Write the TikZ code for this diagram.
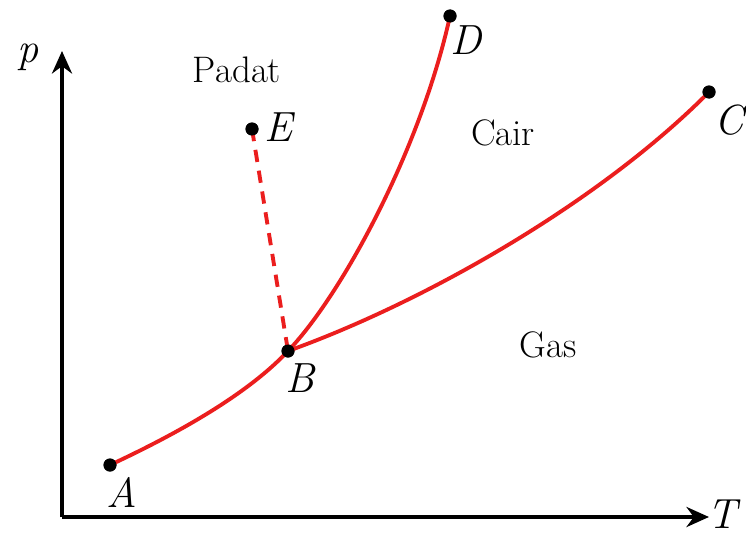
\documentclass[tikz,border=0pt]{standalone}
\usepackage{fontspec}
\usetikzlibrary{arrows.meta, positioning, calc}
\definecolor{curvered}{RGB}{235,30,30}
\tikzset{
  axis/.style={line width=2.3pt, -{Stealth[length=4.5mm, width=4mm]}},
  curve/.style={line width=2.2pt, draw=curvered},
  dashcurve/.style={line width=2.2pt, draw=curvered, dash pattern=on 7pt off 5pt},
  dot/.style={circle, fill=black, inner sep=0pt, minimum size=2.6mm},
  ptlabel/.style={font=\rmfamily\fontsize{24}{28}\selectfont\itshape},
  region/.style={font=\rmfamily\fontsize{21}{25}\selectfont}
}

\begin{document}
\begin{tikzpicture}
  \useasboundingbox (0,0) rectangle (14.92,10.64);

  % axes
  \coordinate (O) at (1.24,0.30);
  \coordinate (ptop) at (1.24,9.62);
  \coordinate (Tend) at (14.18,0.30);
  \draw[axis] (O) -- (ptop);
  \draw[axis] (O) -- (Tend);
  \node[ptlabel] (plab) at (0.56,9.50) {p};
  \node[ptlabel, inner sep=0pt] (Tlab) at (14.44,0.36) {T};

  % points
  \node[dot] (A) at (2.20,1.34) {};
  \node[dot] (B) at (5.76,3.62) {};
  \node[dot] (E) at (5.04,8.06) {};
  \node[dot] (D) at (9.00,10.32) {};
  \node[dot] (C) at (14.18,8.80) {};

  % phase curves
  \draw[curve] (A.center) .. controls (3.4,1.9) and (4.9,2.7) .. (B.center);
  \draw[curve] (B.center) .. controls (6.8,4.7) and (8.4,7.6) .. (D.center);
  \draw[curve] (B.center) .. controls (8.5,4.6) and (12.0,6.6) .. (C.center);
  \draw[dashcurve] (E.center) -- (B.center);

  % dots on top
  \foreach \p in {A,B,E,D,C}
    \fill (\p) circle (0.13);

  % labels
  \node[ptlabel] (Alab) at (2.44,0.80) {A};
  \node[ptlabel] (Blab) at (6.00,3.08) {B};
  \node[ptlabel] (Elab) at (5.56,8.10) {E};
  \node[ptlabel] (Dlab) at (9.32,9.84) {D};
  \node[ptlabel] (Clab) at (14.58,8.24) {C};

  \node[region] (padat) at (4.74,9.24) {Padat};
  \node[region] (cair) at (10.06,7.98) {Cair};
  \node[region] (gas) at (10.96,3.74) {Gas};
\end{tikzpicture}
\end{document}
